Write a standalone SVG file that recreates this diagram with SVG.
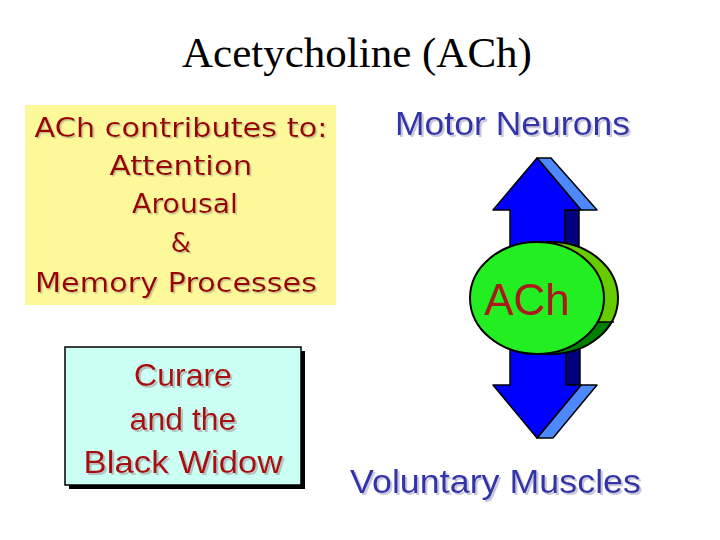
<svg xmlns="http://www.w3.org/2000/svg" width="720" height="540" viewBox="0 0 720 540">
<style>
.title{font-family:"Liberation Serif","Times New Roman",serif;font-size:43px;fill:#000;text-anchor:middle}
.comic{font-family:"DejaVu Sans","Noto Sans",sans-serif;font-size:26px;text-anchor:middle;fill:#990000}
.arial{font-family:"Liberation Sans",Arial,sans-serif;text-anchor:middle}
.blue{fill:#3333aa}
.ln{stroke:#000;stroke-width:1.5;stroke-linejoin:round}
</style>
<defs>
<clipPath id="lower"><rect x="540" y="322" width="100" height="60"/></clipPath>
<filter id="shY" x="-10%" y="-20%" width="120%" height="140%"><feDropShadow dx="1.5" dy="1.5" stdDeviation="0" flood-color="#c9c288"/></filter>
<filter id="shC" x="-10%" y="-20%" width="120%" height="140%"><feDropShadow dx="2" dy="2" stdDeviation="0" flood-color="#b0c4c4"/></filter>
<filter id="shW" x="-10%" y="-20%" width="120%" height="140%"><feDropShadow dx="2" dy="2" stdDeviation="0" flood-color="#c8c8d8"/></filter>
</defs>
<rect width="720" height="540" fill="#fff"/>
<g id="title"><text class="title" x="357" y="67">Acetycholine (ACh)</text></g>
<g id="contrib">
<rect x="25" y="105" width="311" height="200" fill="#fdf99b"/>
<g class="comic" filter="url(#shY)">
<text x="181" y="137" textLength="293" lengthAdjust="spacingAndGlyphs">ACh contributes to:</text>
<text x="181" y="175" textLength="143" lengthAdjust="spacingAndGlyphs">Attention</text>
<text x="185" y="213" textLength="106" lengthAdjust="spacingAndGlyphs">Arousal</text>
<text x="181" y="252">&amp;</text>
<text x="176" y="292" textLength="282" lengthAdjust="spacingAndGlyphs">Memory Processes</text>
</g>
</g>
<g id="curare">
<rect x="69" y="351" width="236" height="138" fill="#000"/>
<rect x="65" y="347" width="236" height="138" fill="#ccfff4" stroke="#000" stroke-width="1.5"/>
<g class="arial" font-size="32" fill="#aa1111" filter="url(#shC)">
<text x="183" y="386">Curare</text>
<text x="183" y="430">and the</text>
<text x="183" y="473" textLength="199" lengthAdjust="spacingAndGlyphs">Black Widow</text>
</g>
</g>
<g id="motor">
<text class="arial blue" font-size="33" x="512.5" y="135" textLength="235" lengthAdjust="spacingAndGlyphs" filter="url(#shW)">Motor Neurons</text>
</g>
<g id="muscles">
<text class="arial blue" font-size="34" x="495.5" y="493" textLength="291" lengthAdjust="spacingAndGlyphs" filter="url(#shW)">Voluntary Muscles</text>
</g>
<g id="connectors">
<polygon class="ln" fill="#000080" points="565,210 579,210 579,265 565,265"/>
<polygon class="ln" fill="#4d88ff" points="537,158 551,158 597,210 581,210"/>
<polygon class="ln" fill="#0000ff" points="537,158 581,210 565,210 565,265 510,265 510,210 493,210"/>
<polygon class="ln" fill="#000080" points="566,330 580,330 580,385 566,385"/>
<polygon class="ln" fill="#4d88ff" points="581,385 597,385 553,438 537,438"/>
<polygon class="ln" fill="#0000ff" points="510,330 566,330 566,385 581,385 537,438 493,385 510,385"/>
</g>
<g id="ach">
<ellipse cx="551" cy="298" rx="67" ry="56" fill="#66cc00"/>
<ellipse cx="551" cy="298" rx="67" ry="56" fill="#008000" clip-path="url(#lower)"/>
<line x1="590" y1="322" x2="614" y2="322" stroke="#000" stroke-width="1.5"/>
<ellipse cx="551" cy="298" rx="67" ry="56" fill="none" stroke="#000" stroke-width="2"/>
<ellipse cx="537" cy="298" rx="67" ry="56" fill="#22ee22" stroke="#000" stroke-width="2"/>
<text class="arial" font-size="44" fill="#aa1a1a" x="527" y="315">ACh</text>
</g>
</svg>
